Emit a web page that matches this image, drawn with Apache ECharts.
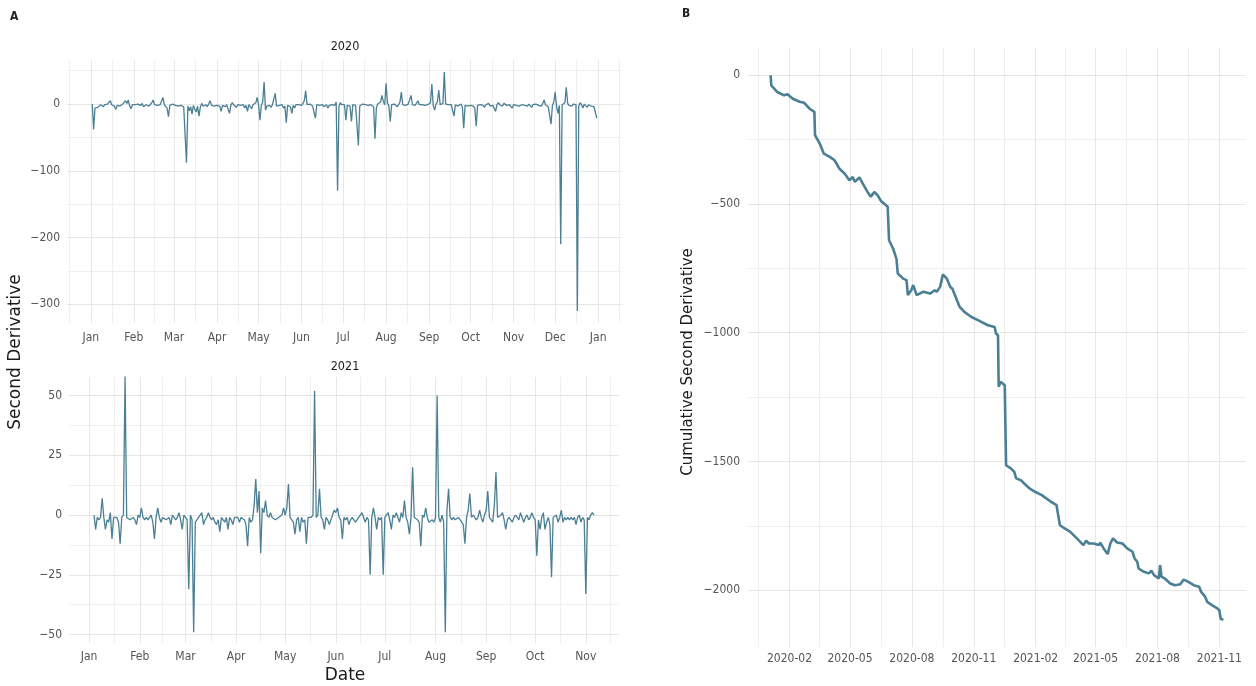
<!DOCTYPE html>
<html><head><meta charset="utf-8">
<script src="https://cdn.jsdelivr.net/npm/echarts@6/dist/echarts.min.js"></script>
<style>html,body{margin:0;padding:0;background:#fff}#c{width:1256px;height:686px}</style>
</head><body><div id="c"></div><script>
// ---------- DATA ----------
// Daily second derivative, 2020 (one array per month, day 1..n; null = no data)
const jan2020 = [null,0,-38,-6,-4,-5,-3,-1,-2,-4,-1,-2,0,2,5,-1,-2,-3,-8,-2,-1,-3,-2,0,2,5,1,6,-3,-7,-1];
const feb2020 = [-2,-1,-3,0,-1,-2,1,-4,-2,-1,0,-3,-1,2,6,-1,-3,-2,0,-1,-2,10,-1,-3,-6,-19,-2,-1,0];
const mar2020 = [-1,-2,0,-3,-1,-2,0,-4,-6,-88,-3,-10,-4,-15,-2,-8,-12,-3,-18,-5,1,-3,-2,-1,-4,0,5,-2,-1,-3,-2];
const apr2020 = [-2,-1,-3,-11,-2,0,-4,-1,-3,-14,-2,2,-1,-3,-5,-1,0,-2,-4,-1,-6,-2,-11,-1,-3,-7,-1,-2,2,10];
const may2020 = [-1,-24,-2,3,33,-9,-3,-1,-2,-5,-1,0,16,-3,-1,-2,-4,-1,-6,-3,-28,-2,-1,-4,-14,-2,-6,-1,-3,-1,0];
const jun2020 = [-2,1,5,20,-1,-2,0,-1,-3,-2,-21,-1,0,-2,-3,-1,-4,-2,-1,-6,-2,-3,-1,1,-2,3,-130,-4,2,-1];
const jul2020 = [-2,-1,-24,-2,0,-3,-26,-1,0,-2,-1,-62,-3,-1,0,-2,-1,-1,-2,-3,-1,-2,-4,-52,-5,0,-1,3,13,4,-1];
const aug2020 = [31,2,-3,-26,-1,-3,0,-2,-4,-1,3,18,-1,-3,-2,-1,0,-2,13,-1,-3,-2,0,5,-1,-2,-1,-3,-2,0,-1];
const sep2020 = [-1,2,30,-2,-9,0,3,21,-1,-2,1,48,0,-2,-1,-3,-1,-2,-18,-1,-2,-3,-1,0,-4,-36,-2,-1,-3,-1];
const oct2020 = [-2,-1,-3,-6,-33,-2,0,-1,-3,-2,-5,-1,-2,1,-3,-1,-2,-4,-11,-1,2,-1,-2,-3,1,-1,-2,-4,-1,0,-6];
const nov2020 = [-1,0,-2,-1,-3,-5,-1,1,-2,-1,-3,0,-2,-5,-1,-2,0,-1,-2,-1,-3,1,6,-1,-2,-4,-3,-30,-2,3];
const dec2020 = [18,-4,-14,-2,-210,-1,0,2,25,1,-2,-1,-3,0,-2,-1,-310,-3,2,-1,-6,0,-2,-5,-1,1,-3,-1,-4,-2,-21];

// Daily second derivative, 2021
const jan2021 = [null,null,null,0,-6,-1,-2,-1,7,-1,-6,-2,-3,1,-10,-1,-1,-1,-3,-12,-1,0,58,-1,-1,-2,-2,-1,-2,-4,0];
const feb2021 = [-1,3,-1,-2,-1,-2,-1,0,-3,-10,-1,3,-1,-3,-1,-1,-2,-2,-1,-4,0,-1,-2,-1,1,-2,-6,0];
const mar2021 = [-1,-2,-31,0,-2,-49,-3,-2,-1,0,1,-4,-2,-1,1,-1,-2,-1,-3,-4,-2,-7,-1,-2,-3,-1,-6,-1,-2,-4,-1];
const apr2021 = [-1,-1,-3,-1,-1,-2,-4,-13,-1,-3,-2,4,15,1,10,-16,3,1,6,0,-1,1,-1,-1,-2,-2,-1,-1,0,3];
const may2021 = [0,3,13,-1,-2,-3,-8,-2,-1,-7,-1,-3,-2,-12,-1,-1,-1,0,52,-1,0,11,-1,-2,-6,-1,-2,-4,-2,0,2];
const jun2021 = [1,3,-1,-2,-10,-1,-2,-1,-4,-2,-1,-1,-3,-2,-1,0,1,-1,-3,-1,-2,-25,-1,3,-1,-6,-1,-2,-1,-25];
const jul2021 = [-1,-1,1,-2,-6,0,-1,1,-1,-3,1,-1,6,-1,-3,-8,-1,20,-1,-1,-2,-3,-13,0,-1,3,-1,-3,-3,-2,-3];
const aug2021 = [-1,50,-1,-3,0,-3,-49,2,11,-1,-2,-1,-2,-2,-1,-1,-3,-4,-12,-1,2,9,-1,0,-1,-2,-1,2,-1,-3,0];
const sep2021 = [2,10,-1,-1,-3,4,18,-1,-1,0,1,-2,-6,-2,-1,-2,-3,-1,0,-1,-2,1,-1,-3,-1,0,-2,-1,1,-1];
const oct2021 = [-2,-17,-2,-6,-1,1,-6,-3,-1,-4,-26,-1,-1,0,-3,-1,2,-3,-1,-2,-1,-2,-1,-2,-1,-4,-1,0,-3,-1,-2];
const nov2021 = [-33,-1,-2,0,1,0];

// Cumulative second derivative
const cumDates = ['2020-01-04','2020-01-05','2020-01-08','2020-01-14','2020-01-24','2020-01-29','2020-02-06','2020-02-16','2020-02-23','2020-02-26',
 '2020-03-02','2020-03-09','2020-03-10','2020-03-17','2020-03-23','2020-04-01','2020-04-08','2020-04-15','2020-04-23','2020-04-30',
 '2020-05-05','2020-05-08','2020-05-15','2020-05-20','2020-05-27','2020-06-01','2020-06-06','2020-06-11','2020-06-16','2020-06-26',
 '2020-06-28','2020-07-04','2020-07-09','2020-07-11','2020-07-19','2020-07-24','2020-07-26','2020-07-31','2020-08-03','2020-08-08',
 '2020-08-18','2020-08-28','2020-09-04','2020-09-07','2020-09-12','2020-09-16','2020-09-22','2020-09-27','2020-09-30','2020-10-11',
 '2020-10-18','2020-10-28','2020-11-07','2020-11-22','2020-12-02','2020-12-04','2020-12-06','2020-12-07','2020-12-08','2020-12-11',
 '2020-12-13','2020-12-17','2020-12-19','2020-12-26','2020-12-31','2021-01-03','2021-01-10','2021-01-15','2021-01-23','2021-01-31',
 '2021-02-10','2021-02-17','2021-02-24','2021-03-04','2021-03-06','2021-03-09','2021-03-16','2021-03-24','2021-04-01','2021-04-08',
 '2021-04-13','2021-04-17','2021-04-21','2021-04-28','2021-05-06','2021-05-08','2021-05-13','2021-05-19','2021-05-23','2021-05-27',
 '2021-06-02','2021-06-10','2021-06-17','2021-06-25','2021-06-28','2021-07-02','2021-07-04','2021-07-12','2021-07-19','2021-07-23',
 '2021-07-27','2021-08-03','2021-08-05','2021-08-06','2021-08-07','2021-08-12','2021-08-20','2021-08-27','2021-09-04','2021-09-09',
 '2021-09-16','2021-09-24','2021-10-02','2021-10-05','2021-10-11','2021-10-14','2021-10-21','2021-10-29','2021-11-01','2021-11-03','2021-11-07'];
const cumValues = [0,-40,-48,-65,-78,-74,-91,-103,-107,-116,
 -130,-142,-233,-265,-304,-317,-330,-362,-382,-408,
 -395,-414,-397,-421,-453,-472,-453,-466,-488,-511,
 -641,-673,-712,-770,-790,-796,-854,-835,-815,-854,
 -841,-848,-835,-841,-822,-774,-790,-822,-828,-900,
 -919,-938,-951,-971,-978,-1003,-997,-1010,-1210,-1191,
 -1197,-1204,-1515,-1527,-1540,-1566,-1573,-1586,-1605,-1618,
 -1631,-1644,-1657,-1670,-1702,-1748,-1760,-1773,-1793,-1812,
 -1825,-1808,-1819,-1819,-1825,-1816,-1838,-1860,-1819,-1799,
 -1815,-1819,-1838,-1851,-1877,-1890,-1916,-1929,-1935,-1925,
 -1942,-1955,-1903,-1909,-1948,-1955,-1974,-1981,-1977,-1959,
 -1968,-1981,-1987,-2007,-2026,-2046,-2058,-2071,-2078,-2111,-2115];

// Tick labels
const monthNames = ['Jan','Feb','Mar','Apr','May','Jun','Jul','Aug','Sep','Oct','Nov','Dec'];
const yTicks2020 = [0,-100,-200,-300];
const yMinor2020 = [50,-50,-150,-250];
const yTicks2021 = [50,25,0,-25,-50];
const yMinor2021 = [37.5,12.5,-12.5,-37.5];
const yTicksCum = [0,-500,-1000,-1500,-2000];
const yMinorCum = [-250,-750,-1250,-1750];
const cumTickMonths = ['2020-02','2020-05','2020-08','2020-11','2021-02','2021-05','2021-08','2021-11'];

// ---------- BUILD ----------
const t = (y,m,d) => new Date(y,m,d).getTime();
function build(year, months){
  const out=[];
  months.forEach((arr,m)=>arr.forEach((v,i)=>{ if(v!==null) out.push([t(year,m,i+1),v]); }));
  return out;
}
const s2020 = build(2020,[jan2020,feb2020,mar2020,apr2020,may2020,jun2020,jul2020,aug2020,sep2020,oct2020,nov2020,dec2020]);
const s2021 = build(2021,[jan2021,feb2021,mar2021,apr2021,may2021,jun2021,jul2021,aug2021,sep2021,oct2021,nov2021]);
const sCum = cumDates.map((d,i)=>{const p=d.split('-').map(Number);return [t(p[0],p[1]-1,p[2]),cumValues[i]];});

function expand(series){const a=series[0][0],b=series[series.length-1][0],e=(b-a)*0.05;return [a-e,b+e];}
const x0 = expand(s2020), x1 = expand(s2021), x2 = expand(sCum);

function monthStarts(y0,m0,y1,m1,step){const r=[];let d=new Date(y0,m0,1);const end=new Date(y1,m1,1);while(d<=end){r.push(d.getTime());d=new Date(d.getFullYear(),d.getMonth()+step,1);}return r;}
function mids(arr){const r=[];for(let i=0;i<arr.length-1;i++)r.push((arr[i]+arr[i+1])/2);return r;}
const maj0 = monthStarts(2020,0,2021,0,1);
const min0 = mids(monthStarts(2019,11,2021,1,1));
const maj1 = monthStarts(2021,0,2021,10,1);
const min1 = mids(monthStarts(2020,11,2021,11,1));
const maj2 = cumTickMonths.map(s=>{const p=s.split('-').map(Number);return t(p[0],p[1]-1,1);});
const min2 = mids([t(2019,10,1)].concat(maj2).concat([t(2022,1,1)]));

const minus = v => v<0 ? '\u2212'+Math.abs(v) : String(v);
const FONT = "'DejaVu Sans Condensed','DejaVu Sans',sans-serif";
const LINE = '#4b7f93';
const MAJ = '#e6e6e6', MIN = '#efefef';

function xMain(grid, range, ticks, fmt, margin){
  return {type:'value', gridIndex:grid, min:range[0], max:range[1], scale:true,
    axisLine:{show:false}, axisTick:{show:false, customValues:ticks},
    axisLabel:{customValues:ticks, formatter:fmt, color:'#555', fontSize:12, fontFamily:FONT, margin:margin, hideOverlap:false},
    splitLine:{show:true, lineStyle:{color:MAJ, width:1}}, z:1};
}
function xMinor(grid, range, ticks){
  return {type:'value', gridIndex:grid, min:range[0], max:range[1], scale:true, position:'bottom',
    axisLine:{show:false}, axisTick:{show:false, customValues:ticks}, axisLabel:{show:false, customValues:ticks},
    splitLine:{show:true, lineStyle:{color:MIN, width:1}}, z:0};
}
function yMain(grid, mn, mx, ticks, margin){
  return {type:'value', gridIndex:grid, min:mn, max:mx,
    axisLine:{show:false}, axisTick:{show:false, customValues:ticks},
    axisLabel:{customValues:ticks, formatter:minus, color:'#555', fontSize:12, fontFamily:FONT, margin:margin},
    splitLine:{show:true, lineStyle:{color:MAJ, width:1}}, z:1};
}
function yMinorAx(grid, mn, mx, ticks){
  return {type:'value', gridIndex:grid, min:mn, max:mx, position:'left',
    axisLine:{show:false}, axisTick:{show:false, customValues:ticks}, axisLabel:{show:false, customValues:ticks},
    splitLine:{show:true, lineStyle:{color:MIN, width:1}}, z:0};
}
const fmtMonth = v => monthNames[new Date(v).getMonth()];
const fmtYM = v => {const d=new Date(v);return d.getFullYear()+'-'+String(d.getMonth()+1).padStart(2,'0');};

const chart = echarts.init(document.getElementById('c'), null, {renderer:'canvas'});
chart.setOption({
  backgroundColor:'#ffffff',
  animation:false,
  grid:[
    {left:67, top:60, width:555, height:263},
    {left:69, top:377, width:550, height:266},
    {left:748, top:48, width:498, height:599}
  ],
  xAxis:[
    xMain(0, x0, maj0, fmtMonth, 9),
    xMain(1, x1, maj1, fmtMonth, 8),
    xMain(2, x2, maj2, fmtYM, 6),
    xMinor(0, x0, min0), xMinor(1, x1, min1), xMinor(2, x2, min2)
  ],
  yAxis:[
    yMain(0, -328, 66, yTicks2020, 7),
    yMain(1, -53.5, 57.7, yTicks2021, 7),
    yMain(2, -2221, 106, yTicksCum, 8),
    yMinorAx(0, -328, 66, yMinor2020), yMinorAx(1, -53.5, 57.7, yMinor2021), yMinorAx(2, -2221, 106, yMinorCum)
  ],
  series:[
    {type:'line', xAxisIndex:0, yAxisIndex:0, data:s2020, showSymbol:false, lineStyle:{color:LINE, width:1.3}, itemStyle:{color:LINE}, clip:true, z:5},
    {type:'line', xAxisIndex:1, yAxisIndex:1, data:s2021, showSymbol:false, lineStyle:{color:LINE, width:1.3}, itemStyle:{color:LINE}, clip:true, z:5},
    {type:'line', xAxisIndex:2, yAxisIndex:2, data:sCum, showSymbol:false, lineStyle:{color:LINE, width:2.6}, itemStyle:{color:LINE}, clip:true, z:5}
  ],
  graphic:[
    {type:'text', left:10, top:11, style:{text:'A', font:"bold 12px "+FONT, fill:'#222'}},
    {type:'text', left:682, top:8, style:{text:'B', font:"bold 12px "+FONT, fill:'#222'}},
    {type:'text', x:345, y:47, style:{text:'2020', font:"12.5px "+FONT, fill:'#1a1a1a', align:'center', verticalAlign:'middle'}},
    {type:'text', x:345, y:367, style:{text:'2021', font:"12.5px "+FONT, fill:'#1a1a1a', align:'center', verticalAlign:'middle'}},
    {type:'text', x:345, y:676, style:{text:'Date', font:"17px 'DejaVu Sans',sans-serif", fill:'#1a1a1a', align:'center', verticalAlign:'middle'}},
    {type:'text', x:16, y:352, rotation:Math.PI/2, style:{text:'Second Derivative', font:"17px 'DejaVu Sans',sans-serif", fill:'#1a1a1a', align:'center', verticalAlign:'middle'}},
    {type:'text', x:688, y:362, rotation:Math.PI/2, style:{text:'Cumulative Second Derivative', font:"15px 'DejaVu Sans',sans-serif", fill:'#1a1a1a', align:'center', verticalAlign:'middle'}}
  ]
});
</script></body></html>
